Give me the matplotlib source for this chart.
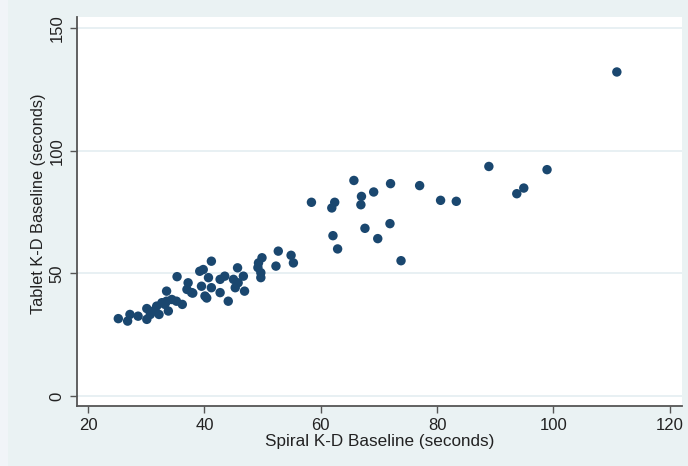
import matplotlib
matplotlib.use("Agg")
import matplotlib.pyplot as plt
from matplotlib.patches import Rectangle

plt.rcParams['font.family'] = ['Liberation Sans', 'DejaVu Sans']

# spiral vs tablet K-D baseline times (seconds)
spiral = [25.2, 26.8, 27.2, 28.6, 30.1, 30.1, 31.2, 31.8, 32.2, 32.7,
          33.5, 33.5, 33.8, 34.4, 35.2, 36.2, 35.3, 37.2, 37.0, 37.8,
          39.2, 39.5, 40.1, 40.7, 41.2, 41.2, 39.8, 42.7, 43.5, 42.7,
          44.1, 45.0, 45.3, 45.7, 46.7, 46.9, 45.8, 49.3, 49.9, 49.7,
          49.7, 49.2, 52.3, 52.7, 54.9, 55.3, 33.2, 30.7, 40.4, 38.0,
          58.4, 62.4, 61.9, 65.7, 67.0, 66.9, 69.1, 72.0, 77.0, 80.6,
          83.3, 88.9, 98.9, 93.7, 94.9, 62.1, 62.9, 67.6, 69.8, 71.9,
          73.8, 110.9]
tablet = [31.6, 30.6, 33.3, 32.6, 31.3, 35.7, 34.7, 36.7, 33.3, 38.1,
          42.8, 38.7, 34.7, 39.4, 38.7, 37.4, 48.7, 46.2, 43.5, 42.2,
          50.9, 44.8, 40.8, 48.3, 44.2, 55.0, 51.6, 47.6, 48.9, 42.2,
          38.7, 47.6, 44.2, 52.3, 48.9, 42.8, 46.2, 54.3, 56.4, 50.3,
          48.3, 52.4, 53.0, 59.1, 57.4, 54.3, 37.4, 33.3, 40.0, 42.0,
          79.0, 79.0, 76.7, 87.9, 81.4, 78.0, 83.2, 86.6, 85.8, 79.8,
          79.4, 93.6, 92.3, 82.5, 84.8, 65.4, 60.0, 68.4, 64.2, 70.3,
          55.2, 132.1]

x_ticks = [20, 40, 60, 80, 100, 120]
y_ticks = [0, 50, 100, 150]

bg = '#EAF2F3'
navy = '#1A476F'

fig = plt.figure(figsize=(6.88, 4.66), dpi=100, facecolor=bg)
# lighter strip on the far left, as in the reference
fig.patches.append(Rectangle((0, 0), 8 / 688, 1, transform=fig.transFigure,
                             facecolor='#F1F4F8', edgecolor='none', zorder=0))

ax = fig.add_axes([77 / 688, 1 - 406 / 466, 605 / 688, 389 / 466])
ax.set_facecolor('white')

ax.scatter(spiral, tablet, s=46, color=navy, edgecolors='none', zorder=3)

ax.set_xlim(18.1, 122.1)
ax.set_ylim(-4, 154.5)
ax.set_xticks(x_ticks)
ax.set_yticks(y_ticks)
ax.yaxis.grid(True, color='#E4EEF1', linewidth=1.2)
ax.set_axisbelow(True)

for side in ['top', 'right']:
    ax.spines[side].set_visible(False)
for side in ['left', 'bottom']:
    ax.spines[side].set_color('#555555')
    ax.spines[side].set_linewidth(1.3)

ax.tick_params(axis='both', direction='out', length=5, width=1,
               color='#555555', labelsize=12, labelcolor='#222222')
ax.tick_params(axis='y', pad=4)
plt.setp(ax.get_yticklabels(), rotation=90, va='center')

ax.set_xlabel('Spiral K-D Baseline (seconds)', fontsize=12.3, color='#222222', labelpad=1)
ax.set_ylabel('Tablet K-D Baseline (seconds)', fontsize=11.8, color='#222222')
ax.yaxis.set_label_coords(-0.052, 0.52)

fig.savefig('out.png', dpi=100, facecolor=bg)
